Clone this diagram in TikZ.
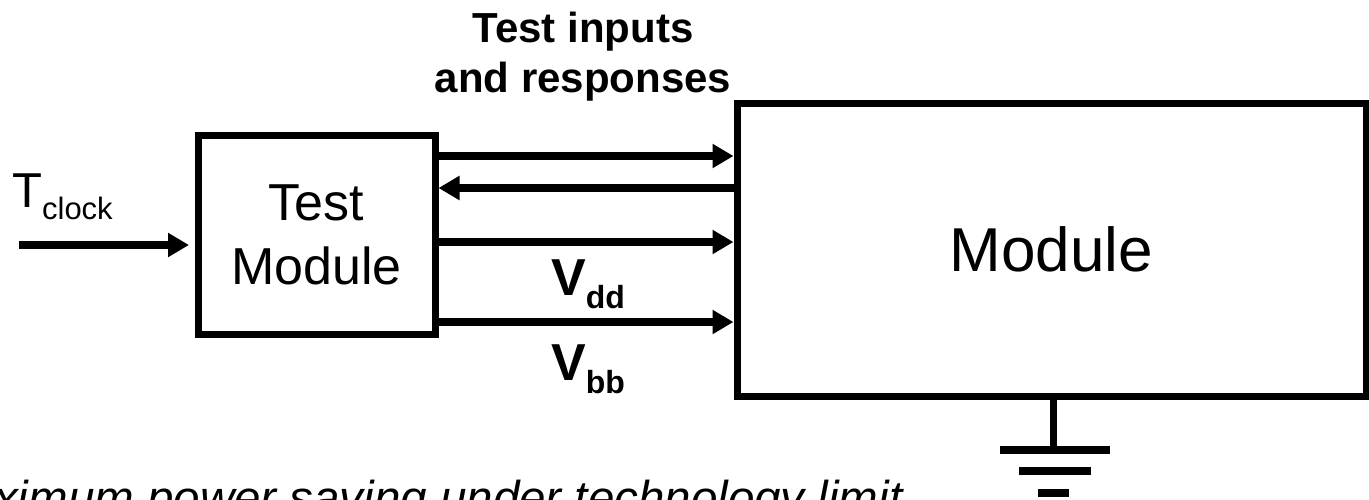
\documentclass[tikz,border=0pt]{standalone}
\usepackage{fontspec}
\setmainfont{Liberation Sans}
\usetikzlibrary{arrows.meta}
\begin{document}
\begin{tikzpicture}[x=1pt,y=-1pt,
  box/.style={draw,line width=7pt,inner sep=0pt,align=center},
  wire/.style={line width=8pt},
  arr/.style={wire,-{Triangle[length=21pt,width=23pt]}},
  lbl/.style={inner sep=0pt}]
\useasboundingbox (0,0) rectangle (1369,499);
% boxes
\node[box,minimum width=237pt,minimum height=199pt,
      font=\fontsize{52}{64}\selectfont] (tm) at (316.5,234.5) {Test\\Module};
\node[box,minimum width=629pt,minimum height=293pt,
      font=\fontsize{62}{74}\selectfont] (mod) at (1051.5,249.75) {Module};
% wire heights
\coordinate (y1) at (0,156);
\coordinate (y2) at (0,188);
\coordinate (y3) at (0,242);
\coordinate (y4) at (0,322);
\coordinate (clk) at (19,245);
\draw[arr] (tm.east |- y1) -- (mod.west |- y1);
\draw[arr] (mod.west |- y2) -- (tm.east |- y2);
\draw[arr] (tm.east |- y3) -- (mod.west |- y3);
\draw[arr] (tm.east |- y4) -- (mod.west |- y4);
\draw[arr,shorten >=5.5pt] (clk) -- (tm.west |- clk);
% labels
\node[lbl,anchor=north,align=center,font=\bfseries\fontsize{42}{50}\selectfont]
  (tir) at (583,11.5) {Test inputs\\and responses};
\node[lbl,anchor=base west,font=\fontsize{49}{58}\selectfont] (tclk) at (12,207)
  {T\raisebox{-12pt}{\fontsize{31}{36}\selectfont clock}};
\node[lbl,anchor=base west,font=\bfseries\fontsize{52}{60}\selectfont] (vdd) at (551,295)
  {V\raisebox{-13pt}{\fontsize{32}{36}\selectfont dd}};
\node[lbl,anchor=base west,font=\bfseries\fontsize{52}{60}\selectfont] (vbb) at (551,380)
  {V\raisebox{-13pt}{\fontsize{32}{36}\selectfont bb}};
\node[lbl,anchor=base west,font=\itshape\fontsize{47.5}{56}\selectfont] (cap) at (-6,514)
  {ximum power saving under technology limit};
% ground
\coordinate (g1) at (1053,449.5);
\draw[wire,line width=7pt] (mod.south -| g1) -- (g1);
\draw[wire] (1000,449.5) -- (1110,449.5);
\draw[wire] (1019,471) -- (1091,471);
\draw[wire] (1038,492.5) -- (1069,492.5);
\end{tikzpicture}
\end{document}
